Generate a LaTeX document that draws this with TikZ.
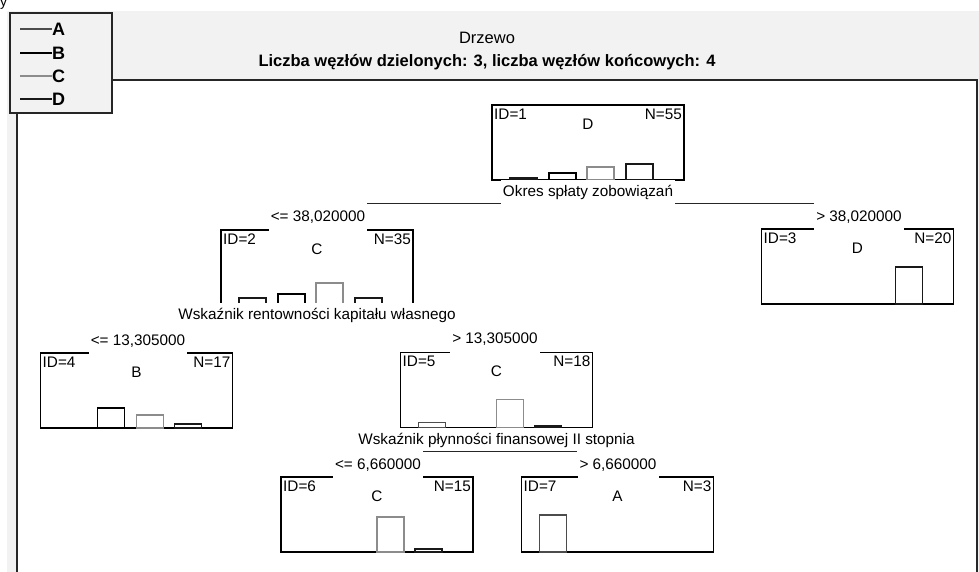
\documentclass[tikz,border=0pt]{standalone}
\usepackage{fontspec}
\setmainfont{Liberation Sans}
\begin{document}
\begin{tikzpicture}[x=1pt,y=-1pt,
  nodebox/.style={draw=black,line width=1.1pt,minimum width=192pt,minimum height=75pt,inner sep=0pt,outer sep=0pt},
  txt/.style={font=\fontsize{15.3}{17}\selectfont,inner sep=1.5pt},
  splitlab/.style={txt,fill=white,minimum height=24pt,inner xsep=2pt},
  condlab/.style={txt,fill=white,minimum height=27pt,inner xsep=2pt},
  conn/.style={line width=1.1pt,draw=black!85},
  barA/.style={draw=black!70,line width=1.1pt},
  barB/.style={draw=black,line width=1.1pt},
  barC/.style={draw=black!45,line width=1.1pt},
  barD/.style={draw=black!90,line width=1.1pt},
  legtxt/.style={font=\bfseries\fontsize{18}{20}\selectfont,inner sep=0pt,anchor=west},
  frameline/.style={line width=1.4pt,draw=black!85}
]
\useasboundingbox (0,0) rectangle (979,572);
\fill[white] (0,0) rectangle (979,572);
\fill[black!5] (7,11) rectangle (979,572);
\fill[white] (17,80) rectangle (977,572);
\node[anchor=south west,font=\fontsize{14}{16}\selectfont,inner sep=0pt] (ystray) at (0,10) {y};

% titles
\node[font=\fontsize{16.5}{18}\selectfont,inner sep=0pt] (title) at (487,38) {Drzewo};
\node[font=\bfseries\fontsize{16.5}{18}\selectfont,inner sep=0pt] (subtitle) at (487,62) {Liczba węzłów dzielonych: 3, liczba węzłów końcowych: 4};

% frame
\draw[frameline] (112,80) -- (977,80) -- (977,573);
\draw[frameline] (17,113) -- (17,573);

% legend
\draw[frameline,fill=black!5] (10,13) rectangle (112,113);
\coordinate (la) at (20,29); \coordinate (lb) at (20,53);
\coordinate (lc) at (20,76); \coordinate (ld) at (20,99);
\node[legtxt] (tA) at (52,29) {A};
\node[legtxt] (tB) at (52,53) {B};
\node[legtxt] (tC) at (52,76) {C};
\node[legtxt] (tD) at (52,99) {D};
\draw[barA] (la) -- (tA.west);
\draw[barB] (lb) -- (tB.west);
\draw[barC] (lc) -- (tC.west);
\draw[barD] (ld) -- (tD.west);

% node boxes
\node[nodebox] (b1) at (588,142.5) {};
\node[nodebox] (b2) at (317,267.5) {};
\node[nodebox] (b3) at (857.5,266.5) {};
\node[nodebox] (b4) at (136.5,390.5) {};
\node[nodebox] (b5) at (496.5,390) {};
\node[nodebox] (b6) at (377,514.5) {};
\node[nodebox] (b7) at (617.5,514.5) {};

% inner texts
\foreach \b/\id/\n/\c in {b1/1/55/D,b2/2/35/C,b3/3/20/D,b4/4/17/B,b5/5/18/C,b6/6/15/C,b7/7/3/A}{
  \node[txt,anchor=west] (\b id) at ([xshift=0.5pt,yshift=-9pt]\b.north west) {ID=\id};
  \node[txt,anchor=east] (\b n) at ([xshift=-0.5pt,yshift=-9pt]\b.north east) {N=\n};
  \node[txt] (\b c) at ([yshift=-19pt]\b.north) {\c};
}

% bars (offsets 18,57,95,134; width 27)
\draw[barD] ([xshift=18pt]b1.south west) rectangle ++(27,-2);
\draw[barB] ([xshift=57pt]b1.south west) rectangle ++(27,-7);
\draw[barC] ([xshift=95pt]b1.south west) rectangle ++(27,-13);
\draw[barD] ([xshift=134pt]b1.south west) rectangle ++(27,-16);

\draw[barD] ([xshift=18pt]b2.south west) rectangle ++(27,-7);
\draw[barB] ([xshift=57pt]b2.south west) rectangle ++(27,-11);
\draw[barC] ([xshift=95pt]b2.south west) rectangle ++(27,-22);
\draw[barD] ([xshift=134pt]b2.south west) rectangle ++(27,-7);

\draw[barD] ([xshift=134pt]b3.south west) rectangle ++(27,-37);

\draw[barB] ([xshift=57pt]b4.south west) rectangle ++(27,-20);
\draw[barC] ([xshift=96pt]b4.south west) rectangle ++(27,-13);
\draw[barD] ([xshift=134pt]b4.south west) rectangle ++(27,-4);

\draw[barA] ([xshift=18pt]b5.south west) rectangle ++(27,-5);
\draw[barC] ([xshift=96pt]b5.south west) rectangle ++(27,-28);
\draw[barD] ([xshift=134pt]b5.south west) rectangle ++(27,-1.5);

\draw[barC] ([xshift=96pt]b6.south west) rectangle ++(27,-35);
\draw[barD] ([xshift=134pt]b6.south west) rectangle ++(27,-3);

\draw[barA] ([xshift=18pt]b7.south west) rectangle ++(27,-37);

% split labels
\node[splitlab] (l1) at (588,192) {Okres spłaty zobowiązań};
\node[splitlab] (l2) at (317,315) {Wskaźnik rentowności kapitału własnego};
\node[splitlab] (l5) at (496.5,440) {Wskaźnik płynności finansowej II stopnia};

% condition labels
\node[condlab] (c2) at (318,217) {<= 38,020000};
\node[condlab] (c3) at (859,217.5) {> 38,020000};
\node[condlab] (c4) at (138,341.5) {<= 13,305000};
\node[condlab] (c5) at (495,339) {> 13,305000};
\node[condlab] (c6) at (378,465.5) {<= 6,660000};
\node[condlab] (c7) at (618,465.5) {> 6,660000};

% connectors
\draw[conn] (c2.north east) -- (c2.north east -| l1.west);
\draw[conn] (c3.north west) -- (c3.north west -| l1.east);
\draw[conn] (c6.north east) -- (c7.north west);
\end{tikzpicture}
\end{document}
